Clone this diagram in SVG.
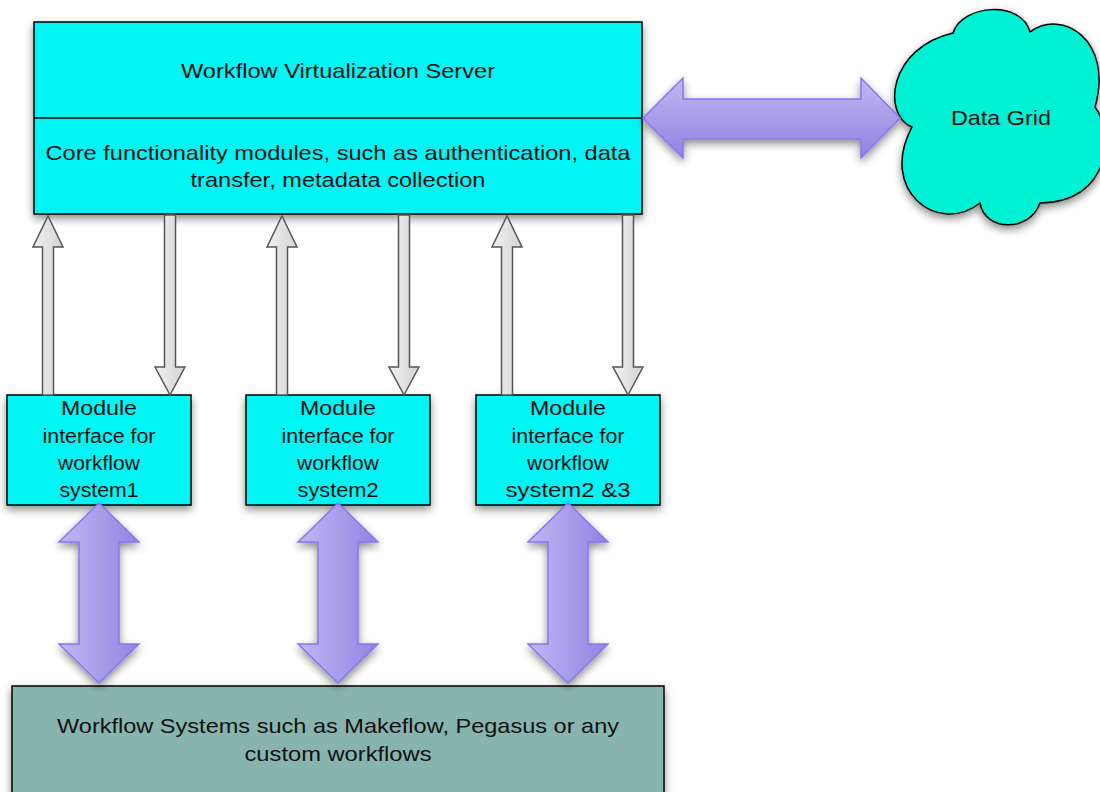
<svg xmlns="http://www.w3.org/2000/svg" width="1100" height="792" viewBox="0 0 1100 792">
<defs>
<filter id="sh" x="-20%" y="-20%" width="140%" height="150%">
<feDropShadow dx="0" dy="4" stdDeviation="4" flood-color="#000" flood-opacity="0.45"/>
</filter>
<linearGradient id="pv" x1="0" y1="0" x2="1" y2="0">
<stop offset="0" stop-color="#c0b8f2"/>
<stop offset="1" stop-color="#9282e2"/>
</linearGradient>
<linearGradient id="ph" x1="0" y1="0" x2="0" y2="1">
<stop offset="0" stop-color="#c0b8f2"/>
<stop offset="1" stop-color="#9282e2"/>
</linearGradient>
<linearGradient id="gv" x1="0" y1="0" x2="1" y2="0">
<stop offset="0" stop-color="#f0f0f0"/>
<stop offset="1" stop-color="#d4d4d4"/>
</linearGradient>
</defs>
<style>
.box{stroke:#000;stroke-width:1.5;filter:url(#sh)}
.cyan{fill:#00f5f5}
.t{font-family:"Liberation Sans",Arial,sans-serif;font-size:21px;fill:#111;text-anchor:middle}
.pa{fill:url(#pv);stroke:#8676f2;stroke-width:1.5;filter:url(#sh)}
.ga{fill:url(#gv);stroke:#555;stroke-width:1.5}
</style>
<rect width="1100" height="792" fill="#fff"/>

<g id="server">
<rect class="box cyan" x="34" y="22" width="608" height="192"/>
<line x1="34" y1="118" x2="642" y2="118" stroke="#000" stroke-width="1.5"/>
<text class="t" x="338" y="78" textLength="314" lengthAdjust="spacingAndGlyphs">Workflow Virtualization Server</text>
<text class="t" x="338" y="160" textLength="585" lengthAdjust="spacingAndGlyphs">Core functionality modules, such as authentication, data</text>
<text class="t" x="338" y="187" textLength="295" lengthAdjust="spacingAndGlyphs">transfer, metadata collection</text>
</g>

<g id="datagrid">
<path class="box" fill="#00f2d4" d="M912,127 C882,115 888,48 953,33 C962,4 1022,0 1030,32 C1062,8 1114,40 1095,107 C1114,132 1112,202 1040,203 C1030,232 985,232 980,203 C938,236 878,190 912,127 Z"/>
<text class="t" x="1001" y="125" textLength="100" lengthAdjust="spacingAndGlyphs">Data Grid</text>
</g>

<g id="mod1">
<rect class="box cyan" x="7" y="395" width="184" height="110"/>
<text class="t" x="99" y="415" textLength="76" lengthAdjust="spacingAndGlyphs">Module</text>
<text class="t" x="99" y="443" textLength="113" lengthAdjust="spacingAndGlyphs">interface for</text>
<text class="t" x="99" y="470" textLength="82" lengthAdjust="spacingAndGlyphs">workflow</text>
<text class="t" x="99" y="497" textLength="79" lengthAdjust="spacingAndGlyphs">system1</text>
</g>
<g id="mod2">
<rect class="box cyan" x="246" y="395" width="184" height="110"/>
<text class="t" x="338" y="415" textLength="76" lengthAdjust="spacingAndGlyphs">Module</text>
<text class="t" x="338" y="443" textLength="113" lengthAdjust="spacingAndGlyphs">interface for</text>
<text class="t" x="338" y="470" textLength="82" lengthAdjust="spacingAndGlyphs">workflow</text>
<text class="t" x="338" y="497" textLength="81" lengthAdjust="spacingAndGlyphs">system2</text>
</g>
<g id="mod3">
<rect class="box cyan" x="476" y="395" width="184" height="110"/>
<text class="t" x="568" y="415" textLength="76" lengthAdjust="spacingAndGlyphs">Module</text>
<text class="t" x="568" y="443" textLength="113" lengthAdjust="spacingAndGlyphs">interface for</text>
<text class="t" x="568" y="470" textLength="82" lengthAdjust="spacingAndGlyphs">workflow</text>
<text class="t" x="568" y="497" textLength="125" lengthAdjust="spacingAndGlyphs">system2 &amp;3</text>
</g>

<g id="workflows">
<rect class="box" fill="#88b4ae" x="12" y="686" width="652" height="130"/>
<text class="t" x="338" y="733" textLength="562" lengthAdjust="spacingAndGlyphs">Workflow Systems such as Makeflow, Pegasus or any</text>
<text class="t" x="338" y="761" textLength="187" lengthAdjust="spacingAndGlyphs">custom workflows</text>
</g>

<g id="connectors">
<path class="pa" style="fill:url(#ph)" d="M643,118 L683,78 L683,99 L861,99 L861,78 L900,118 L861,158 L861,139 L683,139 L683,158 Z"/>
<path class="pa" d="M99,503 L139,542 L119,542 L119,644 L139,644 L99,683 L59,644 L79,644 L79,542 L59,542 Z"/>
<path class="pa" d="M338,503 L378,542 L358,542 L358,644 L378,644 L338,683 L298,644 L318,644 L318,542 L298,542 Z"/>
<path class="pa" d="M568,503 L608,542 L588,542 L588,644 L608,644 L568,683 L528,644 L548,644 L548,542 L528,542 Z"/>
<path class="ga" d="M48,216 L63,247 L53.5,247 L53.5,395 L42.5,395 L42.5,247 L33,247 Z"/>
<path class="ga" d="M170,395 L185,367 L175.5,367 L175.5,215 L164.5,215 L164.5,367 L155,367 Z"/>
<path class="ga" d="M282,216 L297,247 L287.5,247 L287.5,395 L276.5,395 L276.5,247 L267,247 Z"/>
<path class="ga" d="M404,395 L419,367 L409.5,367 L409.5,215 L398.5,215 L398.5,367 L389,367 Z"/>
<path class="ga" d="M507,216 L522,247 L512.5,247 L512.5,395 L501.5,395 L501.5,247 L492,247 Z"/>
<path class="ga" d="M628,395 L643,367 L633.5,367 L633.5,215 L622.5,215 L622.5,367 L613,367 Z"/>
</g>
</svg>
